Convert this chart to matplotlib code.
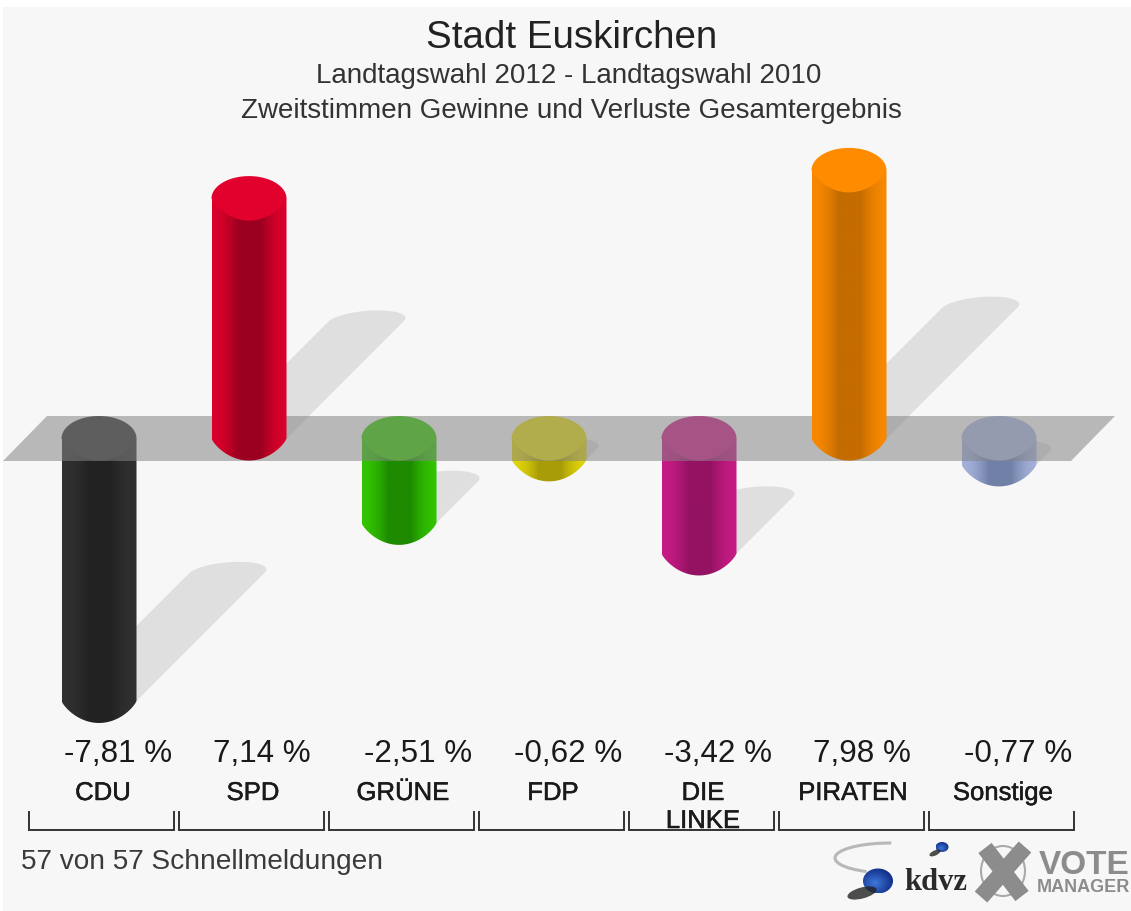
#!/usr/bin/env python3
"""Stadt Euskirchen: Zweitstimmen Gewinne und Verluste als Zylinder."""

import matplotlib
matplotlib.use("Agg")
import matplotlib.pyplot as plt
import numpy as np
import matplotlib.patheffects as effects
from matplotlib.colors import to_rgb
from matplotlib.patches import Arc, Ellipse, Polygon, Rectangle

parties = ["CDU", "SPD", "GRÜNE", "FDP", "DIE\nLINKE", "PIRATEN", "Sonstige"]
changes = [-7.81, 7.14, -2.51, -0.62, -3.42, 7.98, -0.77]
light_colors = ["#333333", "#e2002c", "#35cb00", "#e8dc0c", "#cc1c88", "#ff8c00", "#abb7e0"]
dark_colors = ["#222222", "#9c0020", "#1e8a00", "#a89c08", "#941262", "#c46c00", "#7080a6"]

title = "Stadt Euskirchen"
subtitle_1 = "Landtagswahl 2012 - Landtagswahl 2010"
subtitle_2 = "Zweitstimmen Gewinne und Verluste Gesamtergebnis"
footer = "57 von 57 Schnellmeldungen"

WIDTH, HEIGHT = 1131, 911
X0_PX, STEP_PX = 99.0, 150.0   # first bar centre, bar spacing
Y0_PX, UNIT_PX = 438.5, 33.6   # pixel row of 0 %, pixels per %-point
HALF_W = 37.5 / STEP_PX
CAP_H = 22.5 / UNIT_PX
SHADOW_PX = 16.4               # shadow run per %-point

plt.rcParams["font.family"] = ["Liberation Sans", "DejaVu Sans"]

fig = plt.figure(figsize=(WIDTH / 100, HEIGHT / 100), dpi=100, facecolor="white")
fig.add_artist(Rectangle((3 / WIDTH, 0), 1, 1 - 7 / HEIGHT, transform=fig.transFigure,
                         facecolor="#f7f7f7", edgecolor="none", zorder=-1))

ax = fig.add_axes([0, 0, 1, 1], facecolor="none")
ax.axis("off")
xlim = (-X0_PX / STEP_PX, (WIDTH - X0_PX) / STEP_PX)
ylim = ((Y0_PX - HEIGHT) / UNIT_PX, Y0_PX / UNIT_PX)


def under_curve(x, level):
    """Pointed lower edge of a cylinder end, right to left."""
    u = np.linspace(1, -1, 60)
    return np.column_stack([x + HALF_W * u, level - CAP_H * 0.98 * (1 - u**2) ** 0.8])


def draw_shadow(x, value):
    base = min(value, 0)
    run = abs(value) * SHADOW_PX
    dx, dy = run / STEP_PX, run / UNIT_PX
    t = np.linspace(np.pi, 0, 40)
    cap_x = x + dx + HALF_W * np.cos(t) + 12 / STEP_PX * np.sin(t)
    cap_y = base + dy + 11 / UNIT_PX * np.sin(t)
    points = np.vstack([[x - HALF_W, base], np.column_stack([cap_x, cap_y]), [x + HALF_W, base]])
    ax.add_patch(Polygon(points, closed=True, facecolor="#dfdfdf", edgecolor="none", zorder=1))


def draw_bar(x, value, light, dark, zorder):
    low, high = min(value, 0), max(value, 0)
    body = np.vstack([[x - HALF_W, high], [x + HALF_W, high], under_curve(x, low)])
    outline = Polygon(body, closed=True, facecolor="none", edgecolor="none")
    ax.add_patch(outline)
    u = np.linspace(-1, 1, 76)
    shade = 0.12 + 0.88 * np.clip((1 - np.abs(u)) / 0.7, 0, 1) ** 1.8
    rgb = np.array(to_rgb(light)) * (1 - shade[:, None]) + np.array(to_rgb(dark)) * shade[:, None]
    image = ax.imshow(rgb[None, :, :], extent=(x - HALF_W, x + HALF_W, low - CAP_H, high),
                      aspect="auto", interpolation="bilinear", zorder=zorder)
    image.set_clip_path(outline)
    t = np.linspace(np.pi, 0, 40)
    upper = np.column_stack([x + HALF_W * np.cos(t), high + CAP_H * np.sin(t)])
    ax.add_patch(Polygon(np.vstack([upper, under_curve(x, high)]), closed=True, facecolor=light,
                         edgecolor="none", zorder=zorder + 0.1))


for i, value in enumerate(changes):
    draw_shadow(i, value)
    draw_bar(i, value, light_colors[i], dark_colors[i], 4 if value > 0 else 2)

# grey plane at 0 %, lies over the falling bars and under the rising ones
plane = [(-0.64, -CAP_H), (6.48, -CAP_H), (6.773, CAP_H), (-0.347, CAP_H)]
ax.add_patch(Polygon(plane, closed=True, facecolor="#848484", alpha=0.54,
                     edgecolor="none", zorder=3))
ax.set_xlim(*xlim)
ax.set_ylim(*ylim)

# everything below is placed in image pixels
px = fig.add_axes([0, 0, 1, 1], facecolor="none")
px.axis("off")

px.text(572, 38, title, ha="center", va="center", fontsize=27.7, color="#222222")
px.text(569, 76, subtitle_1, ha="center", va="center", fontsize=20, color="#333333")
px.text(571.5, 111, subtitle_2, ha="center", va="center", fontsize=20, color="#333333")

label_stroke = [effects.withStroke(linewidth=0.35, foreground="#1a1a1a")]
for i, (party, value) in enumerate(zip(parties, changes)):
    label = f"{value:.2f}".replace(".", ",") + " %"
    offset = 19 if value < 0 else 13
    px.text(X0_PX + STEP_PX * i + offset, 754, label, ha="center", va="center",
            fontsize=22.6, color="#1a1a1a")
    lines = party.split("\n")
    for row, line in enumerate(lines):
        px.text(103 + STEP_PX * i, 793 + 28 * row, line, ha="center", va="center",
                fontsize=18.5, color="#1a1a1a", path_effects=label_stroke)
    left = 29 + STEP_PX * i
    right = left + 145
    px.plot([left, left, right, right], [812, 830, 830, 812], color="#333333",
            linewidth=1.4, solid_joinstyle="miter")

px.text(21, 862, footer, ha="left", va="center", fontsize=20.2, color="#3a3a3a")

# kdvz logo
px.add_patch(Arc((890, 858), 110, 30, theta1=150, theta2=275, color="#b8b8b8", linewidth=2.2))
px.add_patch(Ellipse((862, 893), 30, 11, angle=-15, facecolor="#222222", edgecolor="none", alpha=0.8))
px.add_patch(Ellipse((935, 853), 12, 5, angle=-25, facecolor="#222222", edgecolor="none", alpha=0.8))
for cx, cy, rx, ry in [(878, 881, 15, 12.5), (942, 847, 6.5, 5)]:
    yy, xx = np.mgrid[-1:1:60j, -1:1:60j]
    glow = np.clip(np.hypot(xx + 0.2, yy - 0.2) / 1.2, 0, 1)[:, :, None]
    sphere = np.array(to_rgb("#3f78d8")) * (1 - glow) + np.array(to_rgb("#122f8a")) * glow
    disc = Ellipse((cx, cy), 2 * rx, 2 * ry, facecolor="none", edgecolor="none")
    px.add_patch(disc)
    image = px.imshow(sphere, extent=(cx - rx, cx + rx, cy + ry, cy - ry), aspect="auto")
    image.set_clip_path(disc)
px.text(936, 883, "kdvz", ha="center", va="center", fontsize=22, fontweight="bold",
        family="Liberation Serif", color="#2a2a2a")

# VOTE MANAGER logo
px.add_patch(Ellipse((1003, 871), 44, 50, facecolor="none", edgecolor="#aaaaaa", linewidth=1.5))
px.plot([985, 1022], [848, 896], color="#8c8c8c", linewidth=12, solid_capstyle="butt")
px.plot([1025, 981], [847, 897], color="#8c8c8c", linewidth=12, solid_capstyle="butt")
px.text(1084, 865, "VOTE", ha="center", va="center", fontsize=24, fontweight="bold", color="#8c8c8c")
px.text(1083, 888, "MANAGER", ha="center", va="center", fontsize=13, fontweight="bold", color="#8c8c8c")

px.set_xlim(0, WIDTH)
px.set_ylim(HEIGHT, 0)

fig.savefig("out.png", dpi=100)
